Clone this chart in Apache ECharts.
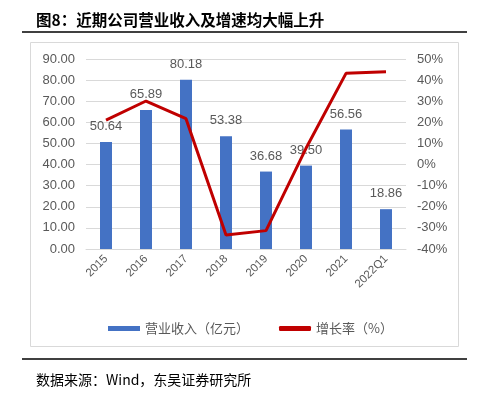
<!DOCTYPE html>
<html><head><meta charset="utf-8">
<script src="https://cdn.jsdelivr.net/npm/echarts@6/dist/echarts.min.js"></script>
<style>html,body{margin:0;padding:0;background:#fff}#c{width:478px;height:396px}</style>
</head><body><div id="c"></div>
<script>
var categories = ['2015','2016','2017','2018','2019','2020','2021','2022Q1'];
var revenue = [50.64, 65.89, 80.18, 53.38, 36.68, 39.50, 56.56, 18.86];
var growth = [21.0, 30.1, 21.7, -33.4, -31.3, 7.7, 43.2, 44.0];
var leftTicks = {min: 0, max: 90, interval: 10};
var rightTicks = {min: -40, max: 50, interval: 10};

var chart = echarts.init(document.getElementById('c'));
var grey = '#595959';
var numFont = 'Liberation Sans, Arial, sans-serif';
var cjk = 'Noto Sans CJK SC, sans-serif';
chart.setOption({
  animation: false,
  title: [
    {text: '图8：近期公司营业收入及增速均大幅上升', left: 31, top: 7,
     textStyle: {fontFamily: cjk, fontSize: 15.5, fontWeight: 'bold', color: '#000'}},
    {text: '数据来源：Wind，东吴证券研究所', left: 31, top: 368,
     textStyle: {fontFamily: cjk, fontSize: 14, fontWeight: 'normal', color: '#000'}}
  ],
  graphic: [
    {type: 'line', shape: {x1: 22, y1: 32, x2: 467, y2: 32}, style: {stroke: '#000', lineWidth: 1.5}},
    {type: 'line', shape: {x1: 22, y1: 359, x2: 467, y2: 359}, style: {stroke: '#000', lineWidth: 1.5}},
    {type: 'rect', shape: {x: 30.5, y: 42.5, width: 428, height: 304}, style: {fill: 'none', stroke: '#d9d9d9', lineWidth: 1}}
  ],
  legend: {
    top: 317, left: 103, itemGap: 30, itemWidth: 32, itemHeight: 5,
    textStyle: {fontFamily: cjk, fontSize: 13, color: grey},
    data: [
      {name: '营业收入（亿元）', icon: 'rect'},
      {name: '增长率（%）', icon: 'roundRect'}
    ]
  },
  grid: {left: 86, right: 72, top: 59, bottom: 147},
  xAxis: {
    type: 'category', data: categories,
    axisLine: {show: true, lineStyle: {color: '#d9d9d9'}},
    axisTick: {show: false},
    axisLabel: {rotate: 45, color: grey, fontFamily: numFont, fontSize: 11.5, margin: 8, interval: 0}
  },
  yAxis: [
    {type: 'value', min: leftTicks.min, max: leftTicks.max, interval: leftTicks.interval,
     axisLine: {show: false}, axisTick: {show: false},
     axisLabel: {color: grey, fontFamily: numFont, fontSize: 13, margin: 11,
       formatter: function (v) { return v.toFixed(2); }},
     splitLine: {lineStyle: {color: '#d9d9d9'}}},
    {type: 'value', min: rightTicks.min, max: rightTicks.max, interval: rightTicks.interval,
     axisLine: {show: false}, axisTick: {show: false},
     axisLabel: {color: grey, fontFamily: numFont, fontSize: 13, margin: 11,
       formatter: function (v) { return v + '%'; }},
     splitLine: {show: false}}
  ],
  series: [
    {name: '营业收入（亿元）', type: 'bar', data: revenue, barWidth: 12,
     itemStyle: {color: '#4472C4'},
     label: {show: true, position: 'top', distance: 9, color: grey, fontFamily: numFont, fontSize: 13,
       formatter: function (p) { return p.value.toFixed(2); }}},
    {name: '增长率（%）', type: 'line', yAxisIndex: 1, data: growth,
     symbol: 'none', lineStyle: {color: '#C00000', width: 3}, itemStyle: {color: '#C00000'}}
  ]
});
</script></body></html>
